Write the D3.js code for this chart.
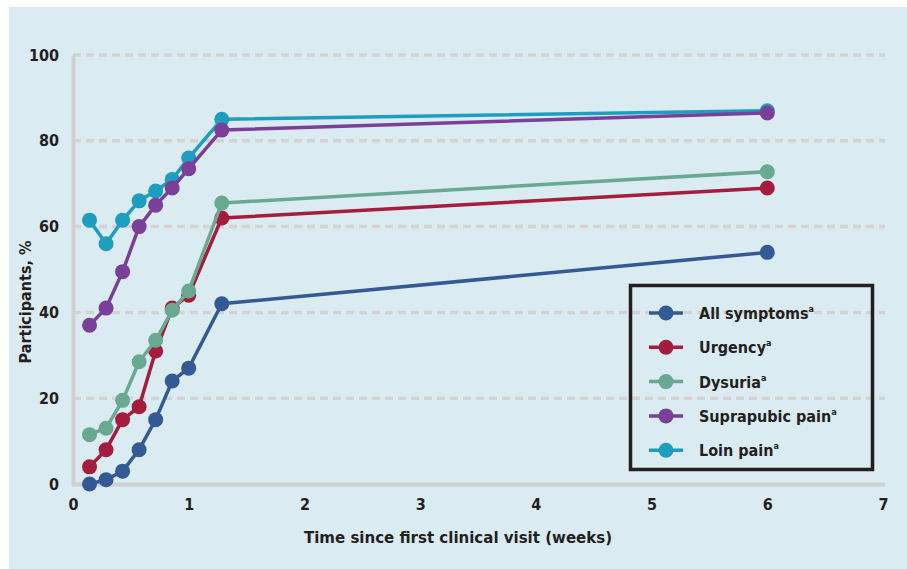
<!DOCTYPE html>
<html>
  <head>
    <meta charset="UTF-8" />
    <script src="https://d3js.org/d3.v7.min.js"></script>
    <style>
      body { margin: 0; background: #fff; }
      text { font-family: "DejaVu Sans Condensed", "DejaVu Sans", sans-serif; fill: #231f20; }
    </style>
  </head>
  <body>
    <div id="my_dataviz"></div>

    <script>
      var width = 907, height = 569;
      var margin = { top: 55, right: 24, bottom: 85, left: 73 };

      // days since first visit -> weeks
      var days = [1, 2, 3, 4, 5, 6, 7, 9, 42];
      var seriesNames = ["All symptoms", "Urgency", "Dysuria", "Suprapubic pain", "Loin pain"];
      var seriesColors = ["#345a95", "#a51c3c", "#6aa991", "#7a3f98", "#1e9ebf"];
      var allSymptoms = [0, 1, 3, 8, 15, 24, 27, 42, 54];
      var urgency = [4, 8, 15, 18, 31, 41, 44, 62, 69];
      var dysuria = [11.5, 13, 19.5, 28.5, 33.5, 40.5, 45, 65.5, 72.8];
      var suprapubic = [37, 41, 49.5, 60, 65, 69, 73.5, 82.5, 86.5];
      var loin = [61.5, 56, 61.5, 66, 68.3, 71, 76, 85, 87];
      var xTicks = [0, 1, 2, 3, 4, 5, 6, 7];
      var yTicks = [0, 20, 40, 60, 80, 100];

      var series = [allSymptoms, urgency, dysuria, suprapubic, loin];

      var svg = d3
        .select("#my_dataviz")
        .append("svg")
        .attr("width", width)
        .attr("height", height);

      svg.append("rect")
        .attr("x", 9).attr("y", 7)
        .attr("width", width - 9).attr("height", height - 7)
        .attr("fill", "#dbebf2");

      var xScale = d3.scaleLinear().domain([0, 7]).range([margin.left, width - margin.right]);
      var yScale = d3.scaleLinear().domain([0, 100]).range([height - margin.bottom, margin.top]);

      // dashed grid
      svg.append("g")
        .selectAll("line")
        .data(yTicks.filter(d => d > 0))
        .join("line")
        .attr("x1", xScale(0))
        .attr("x2", xScale(7) + 2)
        .attr("y1", d => yScale(d))
        .attr("y2", d => yScale(d))
        .attr("stroke", "#d3d3d3")
        .attr("stroke-width", 3.5)
        .attr("stroke-dasharray", "8,5");

      var yAxis = svg.append("g")
        .attr("transform", "translate(" + xScale(0) + ",0)")
        .call(d3.axisLeft(yScale).tickValues(yTicks).tickSize(0).tickPadding(14).tickFormat(d3.format("d")));
      yAxis.select(".domain").attr("stroke", "#d0d0d0").attr("stroke-width", 4);
      yAxis.selectAll("text").attr("font-size", 16).attr("font-weight", "bold").attr("fill", "#231f20");

      var xAxis = svg.append("g")
        .attr("transform", "translate(0," + yScale(0) + ")")
        .call(d3.axisBottom(xScale).tickValues(xTicks).tickSize(0).tickPadding(15).tickFormat(d3.format("d")));
      xAxis.select(".domain").attr("stroke", "#d0d0d0").attr("stroke-width", 4)
        .attr("stroke-linecap", "round");
      xAxis.selectAll("text").attr("font-size", 16).attr("font-weight", "bold").attr("fill", "#231f20");

      svg.append("text")
        .attr("transform", "translate(31,302) rotate(-90)")
        .attr("text-anchor", "middle")
        .attr("font-size", 16)
        .attr("font-weight", "bold")
        .text("Participants, %");

      svg.append("text")
        .attr("x", 458)
        .attr("y", 543)
        .attr("text-anchor", "middle")
        .attr("font-size", 16.7)
        .attr("font-weight", "bold")
        .text("Time since first clinical visit (weeks)");

      var line = d3.line()
        .x((d, i) => xScale(days[i] / 7))
        .y(d => yScale(d));

      // draw order: loin, suprapubic, all, urgency, dysuria (dysuria on top of urgency)
      var order = [4, 3, 0, 1, 2];
      order.forEach(function (k) {
        var g = svg.append("g");
        g.append("path")
          .attr("d", line(series[k]))
          .attr("fill", "none")
          .attr("stroke", seriesColors[k])
          .attr("stroke-width", 3.5)
          .attr("stroke-linejoin", "round");
        g.selectAll("circle")
          .data(series[k])
          .join("circle")
          .attr("cx", (d, i) => xScale(days[i] / 7))
          .attr("cy", d => yScale(d))
          .attr("r", 7.5)
          .attr("fill", seriesColors[k]);
      });

      // legend
      var legend = svg.append("g");
      legend.append("rect")
        .attr("x", 630.5).attr("y", 285.5)
        .attr("width", 242).attr("height", 184)
        .attr("fill", "none")
        .attr("stroke", "#231f20")
        .attr("stroke-width", 3.5);

      seriesNames.forEach(function (name, i) {
        var y = 313 + i * 34.3;
        legend.append("line")
          .attr("x1", 649).attr("x2", 683)
          .attr("y1", y).attr("y2", y)
          .attr("stroke", seriesColors[i])
          .attr("stroke-width", 3.5);
        legend.append("circle")
          .attr("cx", 666).attr("cy", y).attr("r", 7.5)
          .attr("fill", seriesColors[i]);
        var t = legend.append("text")
          .attr("x", 699).attr("y", y + 6)
          .attr("font-size", 16)
          .attr("font-weight", "bold");
        t.append("tspan").text(name);
        t.append("tspan").attr("font-size", 9).attr("dy", -7).text("a");
      });
    </script>
  </body>
</html>
